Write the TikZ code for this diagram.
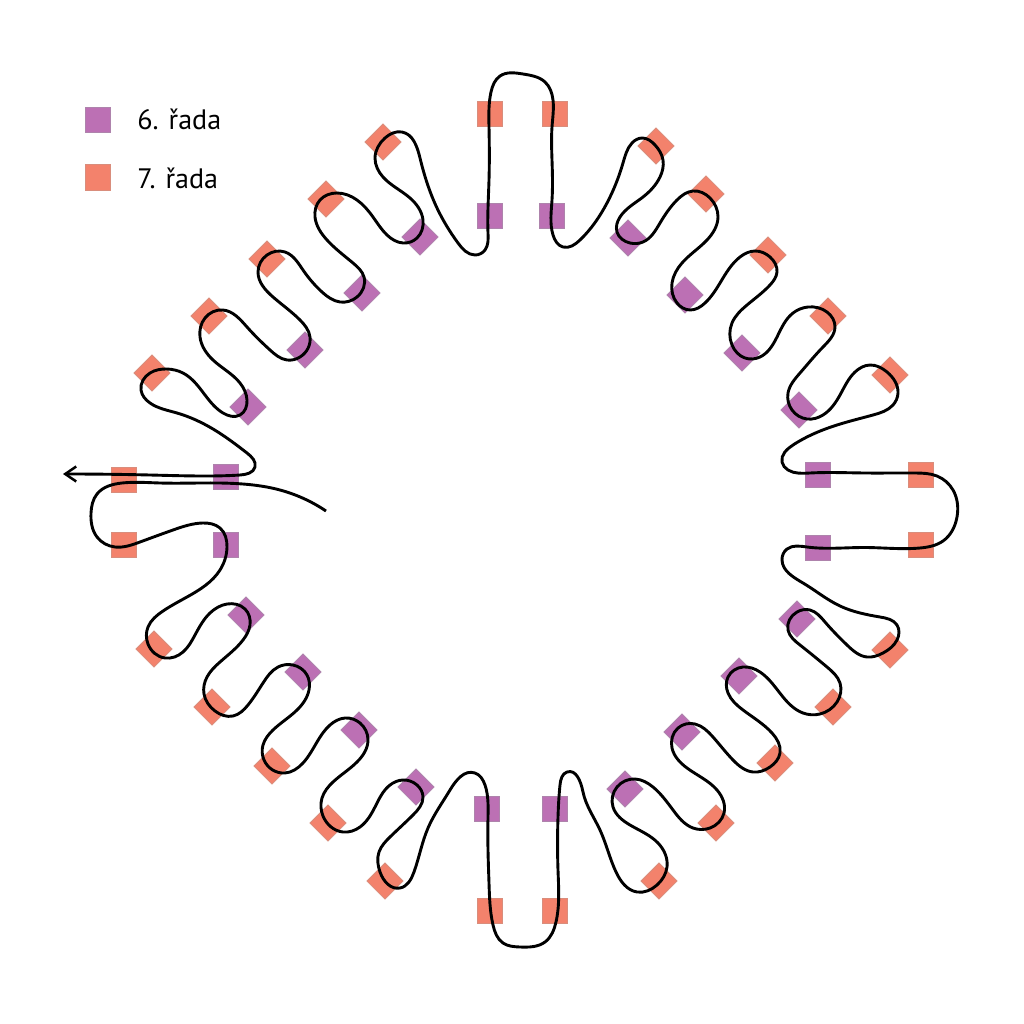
\documentclass[tikz,border=0pt]{standalone}
\usepackage{fontspec}
\setmainfont{PT Sans}
\usetikzlibrary{arrows.meta,hobby}
\definecolor{rowsix}{HTML}{BC70B4}
\definecolor{rowseven}{HTML}{F3826C}
\definecolor{rowsixline}{HTML}{AE83AC}
\definecolor{rowsevenline}{HTML}{D98D7C}
\tikzset{
  bead/.style={inner sep=0pt,minimum size=0.51cm,line width=0.15mm,shape=rectangle},
  sixbead/.style={bead,fill=rowsix,draw=rowsixline},
  sevenbead/.style={bead,fill=rowseven,draw=rowsevenline},
  sixtilt/.style={sixbead,rotate=45},
  seventilt/.style={sevenbead,rotate=45},
  legendtext/.style={inner sep=0pt,anchor=base west,font=\fontsize{16pt}{18pt}\selectfont},
  thread/.style={line width=0.58mm,black,line join=round}
}
\begin{document}
\begin{tikzpicture}[x=0.02cm,y=-0.02cm]
\useasboundingbox[fill=white] (0,0) rectangle (1024,1024);
% legend
\node[sixbead] (legsix) at (98,120) {};
\node[sevenbead] (legseven) at (98,177.5) {};
\node[legendtext] (legsixt) at (137,130) {6. řada};
\node[legendtext] (legsevent) at (137,188) {7. řada};
% straight beads
\node[sevenbead] (ot1) at (490,114) {};
\node[sevenbead] (ot2) at (555,114) {};
\node[sixbead] (pt1) at (490,216) {};
\node[sixbead] (pt2) at (552,216) {};
\node[sixbead] (pr1) at (818,475) {};
\node[sixbead] (pr2) at (818,548) {};
\node[sevenbead] (or1) at (921,475) {};
\node[sevenbead] (or2) at (921,545) {};
\node[sixbead] (pb1) at (487,809) {};
\node[sixbead] (pb2) at (555,809) {};
\node[sevenbead] (ob1) at (490,911) {};
\node[sevenbead] (ob2) at (555,911) {};
\node[sevenbead] (ol1) at (124,480) {};
\node[sevenbead] (ol2) at (124,545) {};
\node[sixbead] (pl1) at (226,477) {};
\node[sixbead] (pl2) at (226,545) {};
% tilted beads, upper left
\node[seventilt] (a1) at (152,373) {};
\node[seventilt] (a2) at (209,316) {};
\node[seventilt] (a3) at (267,259) {};
\node[seventilt] (a4) at (326,199) {};
\node[seventilt] (a5) at (383,142) {};
\node[sixtilt] (b1) at (248,407) {};
\node[sixtilt] (b2) at (305,350) {};
\node[sixtilt] (b3) at (362,293) {};
\node[sixtilt] (b4) at (420,237) {};
% upper right
\node[seventilt] (c1) at (656,146) {};
\node[seventilt] (c2) at (706,194) {};
\node[seventilt] (c3) at (768,255) {};
\node[seventilt] (c4) at (828,316) {};
\node[seventilt] (c5) at (890,375) {};
\node[sixtilt] (d1) at (628,238) {};
\node[sixtilt] (d2) at (685,295) {};
\node[sixtilt] (d3) at (742,353) {};
\node[sixtilt] (d4) at (799,410) {};
% lower right
\node[seventilt] (e1) at (890,650) {};
\node[seventilt] (e2) at (833,707) {};
\node[seventilt] (e3) at (775,763) {};
\node[seventilt] (e4) at (716,823) {};
\node[seventilt] (e5) at (659,881) {};
\node[sixtilt] (f1) at (797,619) {};
\node[sixtilt] (f2) at (739,676) {};
\node[sixtilt] (f3) at (682,732) {};
\node[sixtilt] (f4) at (625,789) {};
% lower left
\node[seventilt] (g1) at (154,649) {};
\node[seventilt] (g2) at (212,707) {};
\node[seventilt] (g3) at (272,766) {};
\node[seventilt] (g4) at (328,823) {};
\node[seventilt] (g5) at (385,881) {};
\node[sixtilt] (h1) at (246,615) {};
\node[sixtilt] (h2) at (303,672) {};
\node[sixtilt] (h3) at (359,730) {};
\node[sixtilt] (h4) at (416,787) {};
% thread
\draw[thread,use Hobby shortcut,-{Straight Barb[length=2.2mm,width=3mm,line width=0.5mm]}]
(326,511) .. (280,490) .. (243,484) .. (200,483) .. (160,483) .. (122,483) .. (97,494) .. (91,513) .. (97,537) .. (115,547) .. (140,542) .. (173,530) .. (203,523) .. (220,528) .. (227,547) .. (220,570) .. (187,597) .. (163,611)
.. (148,627) .. (148,644) .. (165,658) .. (183,652) .. (195,635) .. (210,613) .. (227,604) .. (245,609) .. (250,625) .. (243,640) .. (220,662) .. (207,677)
.. (204,694) .. (215,711) .. (233,716) .. (248,705) .. (263,683) .. (278,667) .. (293,665) .. (307,675) .. (309,690) .. (297,710) .. (273,730) .. (263,745)
.. (264,760) .. (285,773) .. (303,763) .. (317,742) .. (330,725) .. (345,718) .. (360,723) .. (368,740) .. (357,762) .. (333,782) .. (322,798)
.. (323,816) .. (343,832) .. (360,827) .. (375,807) .. (390,785) .. (403,780) .. (417,785) .. (423,797) .. (413,815) .. (390,837) .. (379,852)
.. (380,872) .. (400,888) .. (414,872) .. (428,828) .. (450,790) .. (475,773) .. (485,785) .. (488,817) .. (488,850) .. (489,883) .. (493,925) .. (503,943) .. (520,947) .. (545,942) .. (556,922) .. (558,870) .. (558,817) .. (560,785) .. (567,772)
.. (583,792) .. (600,830) .. (616,872) .. (637,892) .. (657,885) .. (667,867) .. (658,843) .. (630,825) .. (613,807) .. (617,787) .. (635,779)
.. (653,787) .. (673,810) .. (693,828) .. (710,828) .. (724,813) .. (717,790) .. (687,768) .. (672,748) .. (678,728) .. (695,724)
.. (713,737) .. (733,760) .. (753,772) .. (770,767) .. (780,753) .. (772,733) .. (743,710) .. (728,693) .. (728,677) .. (743,667)
.. (760,672) .. (783,697) .. (803,713) .. (820,714) .. (837,702) .. (840,683) .. (827,667) .. (800,645) .. (788,630) .. (797,612) .. (810,610)
.. (825,622) .. (847,645) .. (867,657) .. (883,653) .. (897,640) .. (897,625) .. (880,617) .. (840,606) .. (803,583) .. (782,560) .. (787,549) .. (807,547) .. (865,547.5) .. (920,548) .. (943,541) .. (957,517) .. (953,490) .. (937,476) .. (915,473) .. (865,473) .. (810,473) .. (788,470) .. (782,462) .. (793,445) .. (837,425) .. (873,415) .. (893,405) .. (898,393) .. (887,372) .. (870,365)
.. (855,372) .. (840,395) .. (823,415) .. (807,419) .. (792,410) .. (788,393) .. (800,373) .. (823,347) .. (835,327) .. (827,312) .. (808,307)
.. (793,313) .. (777,337) .. (760,357) .. (745,358) .. (732,345) .. (732,323) .. (747,305) .. (770,285) .. (777,272) .. (770,257) .. (755,251)
.. (740,257) .. (720,283) .. (705,303) .. (690,310) .. (677,303) .. (672,283) .. (682,263) .. (707,240) .. (718,217) .. (710,198) .. (693,191)
.. (677,200) .. (660,223) .. (643,242) .. (630,243) .. (617,232) .. (620,217) .. (643,197) .. (660,177) .. (663,160) .. (655,145) .. (642,138)
.. (632,143) .. (623,163) .. (607,203) .. (580,240) .. (563,247) .. (553,235) .. (552,200) .. (552,160) .. (552,127) .. (553,100) .. (545,82) .. (523,74) .. (500,76) .. (491,92) .. (489,127) .. (489,180) .. (488,233) .. (485,250) .. (475,255)
.. (458,243) .. (437,208) .. (420,158) .. (402,132) .. (385,138) .. (375,158) .. (383,177) .. (410,198) .. (423,220) .. (417,238) .. (403,243)
.. (387,235) .. (373,217) .. (357,200) .. (337,193) .. (320,200) .. (315,217) .. (327,240) .. (353,263) .. (364,277) .. (357,297) .. (340,302)
.. (322,292) .. (303,270) .. (285,252) .. (267,255) .. (258,272) .. (273,297) .. (300,320) .. (310,337) .. (300,357) .. (287,360)
.. (270,350) .. (247,327) .. (223,310) .. (205,318) .. (200,337) .. (213,360) .. (240,383) .. (247,400) .. (240,415) .. (223,413)
.. (205,395) .. (183,373) .. (167,369) .. (150,373) .. (141,390) .. (150,403) .. (177,413) .. (213,429) .. (247,453) .. (255,467) .. (240,475) .. (207,476) .. (150,475) .. (63,474);
\end{tikzpicture}
\end{document}
